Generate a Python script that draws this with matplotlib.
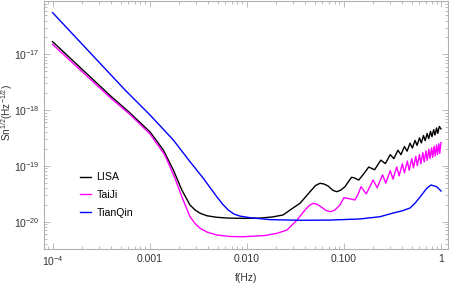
import matplotlib
matplotlib.use('Agg')
from matplotlib import pyplot as plt
from matplotlib.ticker import FixedLocator, FixedFormatter, NullFormatter

##########################################
# data (Hz, Hz^-1/2)

f_lisa = [1e-4, 3.9e-4, 6.27e-4, 1.007e-3, 1.38e-3, 1.75e-3, 2.14e-3, 2.6e-3,
          2.93e-3, 3.3e-3, 3.87e-3, 4.9e-3, 6.5e-3, 9.14e-3, 0.01368, 0.0185,
          0.0236, 0.0279, 0.0353, 0.0448, 0.051, 0.0567, 0.062, 0.0686, 0.077,
          0.0843, 0.092, 0.1026, 0.112, 0.120, 0.128, 0.142, 0.16, 0.18, 0.207,
          0.24, 0.267, 0.30, 0.327, 0.36, 0.387, 0.42, 0.447, 0.48, 0.507,
          0.54, 0.567, 0.60, 0.627, 0.66, 0.687, 0.72, 0.747, 0.78, 0.807,
          0.84, 0.867, 0.90, 0.927, 0.96, 1.0]
sn_lisa = [1.68e-17, 1.83e-18, 8.87e-19, 4.06e-19, 1.93e-19, 8.45e-20, 3.70e-20,
           1.99e-20, 1.62e-20, 1.42e-20, 1.28e-20, 1.20e-20, 1.16e-20, 1.15e-20,
           1.16e-20, 1.22e-20, 1.32e-20, 1.62e-20, 2.14e-20, 3.45e-20, 4.45e-20,
           4.88e-20, 4.75e-20, 4.37e-20, 3.65e-20, 3.45e-20, 3.65e-20, 4.24e-20,
           5.3e-20, 6.25e-20, 6.1e-20, 5.58e-20, 7.2e-20, 9.55e-20, 8.53e-20,
           1.27e-19, 1.10e-19, 1.59e-19, 1.35e-19, 1.91e-19, 1.59e-19, 2.23e-19,
           1.84e-19, 2.55e-19, 2.09e-19, 2.86e-19, 2.33e-19, 3.18e-19, 2.58e-19,
           3.50e-19, 2.83e-19, 3.82e-19, 3.08e-19, 4.14e-19, 3.33e-19, 4.46e-19,
           3.57e-19, 4.78e-19, 3.82e-19, 5.09e-19, 4.6e-19]

f_taiji = [1e-4, 3.9e-4, 6.27e-4, 1.007e-3, 1.43e-3, 1.82e-3, 2.14e-3, 2.6e-3,
           2.93e-3, 3.3e-3, 3.89e-3, 4.9e-3, 6.72e-3, 9.14e-3, 0.01539, 0.0205,
           0.0259, 0.0329, 0.0397, 0.044, 0.0484, 0.053, 0.0591, 0.065, 0.0719,
           0.08, 0.0912, 0.10, 0.112, 0.13, 0.14, 0.15, 0.17, 0.20, 0.22, 0.25,
           0.27, 0.30, 0.32, 0.35, 0.37, 0.40, 0.42, 0.45, 0.47, 0.50, 0.52,
           0.55, 0.57, 0.60, 0.62, 0.65, 0.67, 0.70, 0.72, 0.75, 0.77, 0.80,
           0.82, 0.85, 0.87, 0.90, 0.92, 0.95, 0.97, 1.0]
sn_taiji = [1.50e-17, 1.69e-18, 8.34e-19, 3.73e-19, 1.57e-19, 6.00e-20, 2.81e-20,
            1.23e-20, 9.29e-21, 7.62e-21, 6.53e-21, 5.78e-21, 5.43e-21, 5.38e-21,
            5.66e-21, 6.2e-21, 7.10e-21, 1.07e-20, 1.62e-20, 1.95e-20, 2.14e-20,
            2.05e-20, 1.81e-20, 1.6e-20, 1.51e-20, 1.6e-20, 1.99e-20, 2.69e-20,
            2.6e-20, 2.45e-20, 3.1e-20, 4.24e-20, 3.15e-20, 5.58e-20, 4.05e-20,
            6.92e-20, 4.92e-20, 8.24e-20, 5.79e-20, 9.55e-20, 6.65e-20, 1.09e-19,
            7.52e-20, 1.22e-19, 8.38e-20, 1.35e-19, 9.23e-20, 1.48e-19, 1.01e-19,
            1.60e-19, 1.09e-19, 1.73e-19, 1.18e-19, 1.86e-19, 1.26e-19, 1.99e-19,
            1.35e-19, 2.11e-19, 1.43e-19, 2.24e-19, 1.51e-19, 2.37e-19, 1.60e-19,
            2.49e-19, 1.68e-19, 2.62e-19]

f_tianqin = [1e-4, 5.57e-4, 1.007e-3, 1.75e-3, 2.6e-3, 3.56e-3, 4.9e-3, 5.62e-3,
             6.44e-3, 7.38e-3, 8.51e-3, 0.0108, 0.0173, 0.0353, 0.0719, 0.1465,
             0.2355, 0.3206, 0.40, 0.48, 0.54, 0.608, 0.713, 0.789, 0.903, 1.0]
sn_tianqin = [5.57e-17, 2.29e-18, 8.17e-19, 2.91e-19, 1.19e-19, 6.00e-20, 2.81e-20,
              2.07e-20, 1.62e-20, 1.37e-20, 1.26e-20, 1.18e-20, 1.09e-20, 1.06e-20,
              1.07e-20, 1.12e-20, 1.23e-20, 1.43e-20, 1.57e-20, 1.76e-20, 2.15e-20,
              2.77e-20, 3.97e-20, 4.55e-20, 4.24e-20, 3.55e-20]

names = ['LISA', 'TaiJi', 'TianQin']
colours = ['black', '#ff00ff', '#0000ff']

x_ticks = [1e-4, 1e-3, 1e-2, 1e-1, 1.0]
x_labels = ['$10^{-4}$', '0.001', '0.010', '0.100', '1']
y_ticks = [1e-20, 1e-19, 1e-18, 1e-17]
y_labels = ['$10^{-20}$', '$10^{-19}$', '$10^{-18}$', '$10^{-17}$']

##########################################

plt.rcParams['font.family'] = ['Liberation Sans', 'DejaVu Sans']
plt.rcParams['mathtext.default'] = 'regular'

fig = plt.figure(figsize=(4.49, 2.83), dpi=100)
ax = fig.add_axes([44/449, 34/283, 404/449, 248.5/283])

for f, sn, name, c in zip([f_lisa, f_taiji, f_tianqin],
                          [sn_lisa, sn_taiji, sn_tianqin], names, colours):
    ax.plot(f, sn, color=c, lw=1.0, label=name)

ax.set_xscale('log')
ax.set_yscale('log')
ax.set_xlim(10**-4.089, 10**0.072)
ax.set_ylim(10**-20.489, 10**-16.036)

# ticks in Mathematica style: inward, gray, on all four sides
minor_x = [m * 10.0**e for e in range(-5, 1) for m in range(2, 10)]
minor_y = [m * 10.0**e for e in range(-21, -15) for m in range(2, 10)]
ax.xaxis.set_major_locator(FixedLocator(x_ticks))
ax.xaxis.set_major_formatter(FixedFormatter(x_labels))
ax.xaxis.set_minor_locator(FixedLocator(minor_x))
ax.xaxis.set_minor_formatter(NullFormatter())
ax.yaxis.set_major_locator(FixedLocator(y_ticks))
ax.yaxis.set_major_formatter(FixedFormatter(y_labels))
ax.yaxis.set_minor_locator(FixedLocator(minor_y))
ax.yaxis.set_minor_formatter(NullFormatter())

ax.tick_params(which='both', direction='in', top=True, right=True,
               color='#b0b0b0', width=0.6, labelsize=7.5, labelcolor='#333333')
ax.tick_params(which='major', length=4, pad=3.5)
ax.tick_params(axis='y', which='major', pad=3)
ax.tick_params(which='minor', length=2)
for s in ax.spines.values():
    s.set_color('#b0b0b0')
    s.set_linewidth(0.8)

ax.set_xlabel('f(Hz)', fontsize=7.5, color='#333333', labelpad=4)
ax.set_ylabel('Sn$^{1/2}$(Hz$^{-1/2}$)', fontsize=7.2, color='#333333')
ax.yaxis.set_label_coords(-0.073, 0.55)

ax.legend(loc='upper left', bbox_to_anchor=(0.075, 0.33), frameon=False,
          fontsize=7.6, handlelength=1.1, handletextpad=0.5, labelspacing=0.75,
          borderpad=0)

fig.savefig('out.png', dpi=100)
